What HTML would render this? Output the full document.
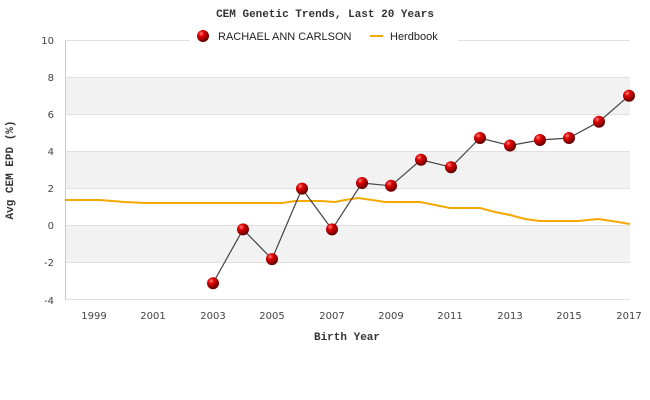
<!DOCTYPE html>
<html><head><style>body{margin:0;background:#fff}svg{display:block}</style></head><body>
<svg width="650" height="400" xmlns="http://www.w3.org/2000/svg" font-family="Liberation Sans, sans-serif">
<defs><radialGradient id="b" cx="0.35" cy="0.3" r="0.7"><stop offset="0" stop-color="#ff8080"/><stop offset="0.35" stop-color="#e00000"/><stop offset="1" stop-color="#600000"/></radialGradient></defs>
<rect x="65" y="40" width="565" height="260" fill="#fff"/>
<rect x="65" y="77.1" width="565" height="37.1" fill="#f2f2f2"/>
<rect x="65" y="151.4" width="565" height="37.1" fill="#f2f2f2"/>
<rect x="65" y="225.7" width="565" height="37.1" fill="#f2f2f2"/>
<g stroke="#e0e0e0" stroke-width="1">
<line x1="65" y1="40.5" x2="630" y2="40.5"/><line x1="65" y1="77.5" x2="630" y2="77.5"/><line x1="65" y1="114.5" x2="630" y2="114.5"/><line x1="65" y1="151.5" x2="630" y2="151.5"/><line x1="65" y1="188.5" x2="630" y2="188.5"/><line x1="65" y1="225.5" x2="630" y2="225.5"/><line x1="65" y1="262.5" x2="630" y2="262.5"/><line x1="65" y1="299.5" x2="630" y2="299.5"/>
</g>
<line x1="65.5" y1="40" x2="65.5" y2="300" stroke="#ccc"/>
<g font-family="DejaVu Sans, sans-serif" font-size="10" fill="#444" text-anchor="end">
<text x="54" y="44">10</text><text x="54" y="81">8</text><text x="54" y="118">6</text><text x="54" y="155">4</text><text x="54" y="192">2</text><text x="54" y="229">0</text><text x="54" y="266">-2</text><text x="54" y="304">-4</text>
</g>
<g font-family="DejaVu Sans, sans-serif" font-size="10" fill="#444" text-anchor="middle">
<text x="94" y="319">1999</text><text x="153" y="319">2001</text><text x="213" y="319">2003</text><text x="272" y="319">2005</text><text x="332" y="319">2007</text><text x="391" y="319">2009</text><text x="450" y="319">2011</text><text x="510" y="319">2013</text><text x="569" y="319">2015</text><text x="629" y="319">2017</text>
</g>
<text x="325" y="17" font-family="Liberation Mono, monospace" font-size="11" font-weight="bold" text-anchor="middle" fill="#333">CEM Genetic Trends, Last 20 Years</text>
<text x="347" y="340" font-family="Liberation Mono, monospace" font-size="11" font-weight="bold" text-anchor="middle" fill="#333">Birth Year</text>
<text transform="translate(13,170) rotate(-90)" font-family="Liberation Mono, monospace" font-size="11" font-weight="bold" text-anchor="middle" fill="#333">Avg CEM EPD (%)</text>
<rect x="190" y="26" width="268" height="20" fill="#fff"/>
<circle cx="203" cy="36" r="6" fill="url(#b)"/>
<text x="218" y="40" font-size="11" fill="#222">RACHAEL ANN CARLSON</text>
<line x1="370" y1="36" x2="383" y2="36" stroke="#f5a800" stroke-width="2"/>
<text x="390" y="40" font-size="11" fill="#222">Herdbook</text>
<polyline fill="none" stroke="#f5a800" stroke-width="2" points="65,200 100,200 124,202 145,203 260,203 282,203 295,201 320,201 335,202 345,200 358,198 372,200 385,202 420,202 430,204 450,208 480,208 495,212 510,215 525,219 540,221 578,221 598,219 612,221 630,224"/>
<polyline fill="none" stroke="#444" stroke-width="1.2" points="213,283.2 243,229.4 272,259.1 302,188.6 332,229.4 362,183 391,185.8 421,159.8 451,167.2 480,138 510,145.5 540,140 569,138 599,121.7 629,95.7"/>
<g>
<circle cx="213" cy="283.2" r="6" fill="url(#b)"/><circle cx="243" cy="229.4" r="6" fill="url(#b)"/><circle cx="272" cy="259.1" r="6" fill="url(#b)"/><circle cx="302" cy="188.6" r="6" fill="url(#b)"/><circle cx="332" cy="229.4" r="6" fill="url(#b)"/><circle cx="362" cy="183" r="6" fill="url(#b)"/><circle cx="391" cy="185.8" r="6" fill="url(#b)"/><circle cx="421" cy="159.8" r="6" fill="url(#b)"/><circle cx="451" cy="167.2" r="6" fill="url(#b)"/><circle cx="480" cy="138" r="6" fill="url(#b)"/><circle cx="510" cy="145.5" r="6" fill="url(#b)"/><circle cx="540" cy="140" r="6" fill="url(#b)"/><circle cx="569" cy="138" r="6" fill="url(#b)"/><circle cx="599" cy="121.7" r="6" fill="url(#b)"/><circle cx="629" cy="95.7" r="6" fill="url(#b)"/>
</g>
</svg>
</body></html>
